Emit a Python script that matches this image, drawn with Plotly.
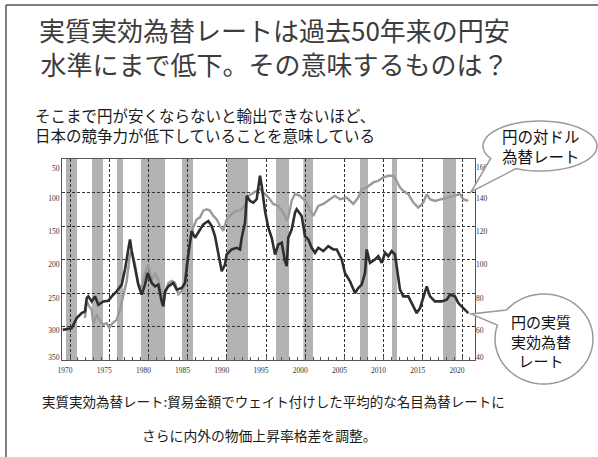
import math
import plotly.graph_objects as go

# ---------------- data ----------------
reer_years = [1969.71, 1970.85, 1971.49, 1972.13, 1972.55, 1972.77, 1972.97, 1973.41, 1973.83, 1974.25,
              1974.89, 1975.52, 1975.96, 1976.59, 1977.23, 1977.65, 1978.07, 1978.29, 1978.51, 1978.93,
              1979.35, 1979.78, 1980.20, 1980.55, 1981.06, 1981.48, 1981.90, 1982.33, 1982.54, 1982.76,
              1983.18, 1983.81, 1984.25, 1984.89, 1985.31, 1985.73, 1986.16, 1986.58, 1987.00, 1987.64,
              1988.28, 1988.71, 1989.13, 1989.55, 1989.99, 1990.41, 1990.62, 1991.26, 1991.90, 1992.32,
              1992.54, 1992.96, 1993.18, 1993.60, 1994.02, 1994.45, 1994.87, 1995.09, 1995.51, 1995.93,
              1996.37, 1996.79, 1997.21, 1997.64, 1998.06, 1998.28, 1998.48, 1998.92, 1999.34, 1999.55,
              2000.19, 2000.61, 2001.03, 2001.47, 2001.89, 2002.31, 2002.95, 2003.58, 2004.22, 2004.66,
              2005.29, 2005.71, 2006.35, 2006.99, 2007.41, 2007.84, 2008.27, 2008.48, 2008.90, 2009.54,
              2009.96, 2010.40, 2010.82, 2011.24, 2011.67, 2012.09, 2012.30, 2012.73, 2013.15, 2013.79,
              2014.43, 2014.86, 2015.28, 2015.70, 2016.14, 2016.56, 2017.19, 2018.05, 2018.69, 2019.11,
              2019.74, 2020.17, 2020.80, 2021.44]
reer_values = [58, 59, 65, 68, 69, 77, 78, 75, 78, 73,
               75, 75.4, 78, 81, 85, 94, 106, 112, 105, 95,
               85, 79, 85, 92, 86, 84, 85, 75, 72, 81,
               84, 86, 82, 83, 86, 103, 117, 113, 116, 121,
               123, 120, 114, 104, 93, 97, 103, 106, 107, 106,
               113, 122, 138, 135, 134, 136, 150, 144, 129, 119,
               113, 103, 109, 110, 99, 96, 113, 118, 128, 130,
               126, 114, 112, 107, 104, 107, 105, 108, 106, 106,
               100, 92, 87, 80, 83, 85, 92, 106, 98, 100,
               102, 98, 104, 102, 105, 103, 96, 82, 78, 78,
               72, 68, 71, 78, 84, 78, 75, 75, 76, 79,
               78, 74, 71, 68]

usd_years = [1972.55, 1972.77, 1973.10, 1973.41, 1973.61, 1974.04, 1974.46, 1974.89, 1975.32, 1975.65,
             1976.08, 1976.59, 1977.02, 1977.44, 1977.87, 1978.29, 1978.51, 1978.93, 1979.35, 1979.78,
             1980.20, 1980.62, 1981.06, 1981.48, 1981.90, 1982.33, 1982.54, 1982.76, 1983.18, 1983.61,
             1984.03, 1984.45, 1984.89, 1985.31, 1985.52, 1985.94, 1986.36, 1986.80, 1987.22, 1987.64,
             1988.07, 1988.49, 1988.92, 1989.35, 1989.77, 1990.19, 1990.63, 1991.26, 1991.90, 1992.32,
             1992.96, 1993.38, 1994.02, 1994.45, 1994.87, 1995.29, 1995.93, 1996.57, 1997.21, 1997.84,
             1998.28, 1998.48, 1998.92, 1999.34, 1999.97, 2000.61, 2001.25, 2001.67, 2002.31, 2002.95,
             2003.80, 2004.44, 2005.08, 2005.94, 2006.77, 2007.41, 2007.84, 2008.48, 2009.32, 2009.96,
             2010.60, 2011.24, 2011.88, 2012.30, 2012.73, 2013.15, 2013.79, 2014.43, 2015.06, 2015.70,
             2016.14, 2016.56, 2017.19, 2018.05, 2018.89, 2019.74, 2020.38, 2020.80, 2021.44]
usd_values = [287, 262, 270, 275, 297, 282, 292, 297, 295, 302,
              295, 290, 275, 255, 232, 192, 188, 207, 237, 242,
              220, 207, 232, 220, 230, 252, 267, 252, 235, 232,
              235, 252, 247, 237, 207, 172, 152, 140, 137, 127,
              125, 127, 135, 140, 150, 157, 140, 132, 127, 127,
              120, 105, 100, 97.5, 95, 100, 107, 117, 120, 130,
              142, 137, 112, 102, 105, 112, 125, 135, 120, 117,
              110, 105, 110, 107.5, 117, 107.5, 95, 92.5, 85, 82.5,
              77.5, 75, 75, 82.5, 92.5, 97.5, 102.5, 115, 122.5, 115,
              102.5, 110, 112.5, 110, 107.5, 105, 102.5, 110, 112.5]

recession_start = [1970.13, 1973.44, 1976.63, 1979.69, 1984.92, 1990.66, 1996.91, 2000.40, 2007.63, 2011.71, 2018.21]
recession_end = [1971.53, 1974.85, 1977.40, 1982.76, 1986.33, 1993.34, 1998.57, 2001.63, 2008.65, 2012.35, 2019.87]

x_tick_labels = ["1970", "1975", "1980", "1985", "1990", "1995", "2000", "2005", "2010", "2015", "2020"]
left_ticks = [50, 100, 150, 200, 250, 300, 350]
left_grid = [100, 150, 200, 250, 300]
right_ticks = [160, 140, 120, 100, 80, 60, 40]

title_lines = ["実質実効為替レートは過去50年来の円安", "水準にまで低下。その意味するものは？"]
subtitle_lines = ["そこまで円が安くならないと輸出できないほど、", "日本の競争力が低下していることを意味している"]
caption_lines = ["実質実効為替レート:貿易金額でウェイト付けした平均的な名目為替レートに",
                 "さらに内外の物価上昇率格差を調整。"]
bubble1_lines = ["円の対ドル", "為替レート"]
bubble2_lines = ["円の実質", "実効為替", "レート"]

# ---------------- layout geometry (style) ----------------
W_PX, H_PX = 598, 457
L, R, T, B = 62, 475, 159, 360
PW, PH = R - L, B - T
LEFT_RANGE = (350, 50)
RIGHT_RANGE = (40, 160)
# vertical pixel rows where the y tick labels sit in the picture
left_label_rows = [168, 198, 231, 264, 298, 330, 357]
right_label_rows = [167, 198, 231, 264, 298, 330, 357]


def P(px, py):
    return (px - L) / PW, (B - py) / PH


def left_val(py):
    return LEFT_RANGE[1] + (py - T) * (LEFT_RANGE[0] - LEFT_RANGE[1]) / PH


def right_val(py):
    return RIGHT_RANGE[1] - (py - T) * (RIGHT_RANGE[1] - RIGHT_RANGE[0]) / PH


CJK = "Noto Sans CJK JP"
grid_offset = 0.64  # grid lines sit slightly right of the year labels

fig = go.Figure()

fig.add_trace(go.Scatter(x=usd_years, y=usd_values, mode="lines", yaxis="y",
                         line=dict(color="#9a9a9a", width=2.4), hoverinfo="skip"))
fig.add_trace(go.Scatter(x=reer_years, y=reer_values, mode="lines", yaxis="y2",
                         line=dict(color="#2e2e2e", width=2.6), hoverinfo="skip"))

shapes = []
for s, e in zip(recession_start, recession_end):
    shapes.append(dict(type="rect", xref="x", yref="paper", x0=s, x1=e, y0=0, y1=1,
                       fillcolor="#b3b3b3", line=dict(width=0), layer="below"))

# outer slide border (top and left)
x0, y0 = P(6, 5)
x1, _ = P(598, 5)
_, y1 = P(6, 457)
shapes.append(dict(type="line", xref="paper", yref="paper", x0=x0, y0=y0, x1=x1, y1=y0,
                   line=dict(color="#555555", width=1.5)))
shapes.append(dict(type="line", xref="paper", yref="paper", x0=x0, y0=y0, x1=x0, y1=y1,
                   line=dict(color="#555555", width=1.5)))


def bubble_path(cx, cy, rx, ry, t_start, t_end, tip, n=80):
    pts = []
    for i in range(n + 1):
        t = math.radians(t_start + (t_end - t_start) * i / n)
        pts.append((cx + rx * math.cos(t), cy + ry * math.sin(t)))
    pts.append(tip)
    conv = [P(px, py) for px, py in pts]
    return "M " + " L ".join(f"{a:.5f},{b:.5f}" for a, b in conv) + " Z"


shapes.append(dict(type="path", xref="paper", yref="paper",
                   path=bubble_path(540, 146, 57, 25, 115, -210, (471, 192)),
                   fillcolor="white", line=dict(color="#999999", width=1.5), layer="above"))
shapes.append(dict(type="path", xref="paper", yref="paper",
                   path=bubble_path(544, 339, 49, 45, -140, 198, (471, 314)),
                   fillcolor="white", line=dict(color="#999999", width=1.5), layer="above"))

annotations = []


def add_text(text, px, py, size, color, anchor="center"):
    ax, ay = P(px, py)
    annotations.append(dict(text=text, x=ax, y=ay, xref="paper", yref="paper",
                            xanchor=anchor, yanchor="middle", align=anchor, showarrow=False,
                            font=dict(family=CJK, size=size, color=color)))


add_text("<br>".join(title_lines), 274.5, 46.5, 26, "#3c3c3c")
add_text("<br>".join(subtitle_lines), 33, 124.5, 15.5, "#1a1a1a", "left")
add_text(caption_lines[0], 40, 401, 13.5, "#1a1a1a", "left")
add_text(caption_lines[1], 140, 435, 13.8, "#1a1a1a", "left")
add_text("<br>".join(bubble1_lines), 541, 146, 15.5, "#111111")
add_text("<br>".join(bubble2_lines), 541, 341, 15, "#111111")

tick_font = dict(family="Liberation Serif", size=7.5, color="#333333")
grid_style = dict(gridcolor="#333333", gridwidth=1, griddash="3px,2px")

label_years = [int(t) for t in x_tick_labels]
fig.update_layout(
    width=W_PX, height=H_PX,
    margin=dict(l=L, r=W_PX - R, t=T, b=H_PX - B, pad=0),
    paper_bgcolor="white", plot_bgcolor="white",
    showlegend=False,
    shapes=shapes, annotations=annotations,
    xaxis=dict(range=[1970 + (L - 65) / 7.84, 1970 + (R - 65) / 7.84],
               tickvals=[y + grid_offset for y in label_years], ticktext=x_tick_labels,
               ticklabelshift=-5, ticklabelstandoff=3,
               showgrid=True, **grid_style,
               showline=True, linecolor="#555555", linewidth=1.2, mirror=True,
               ticks="inside", ticklen=4, tickcolor="#555555",
               minor=dict(ticks="inside", ticklen=3, dtick=1, tick0=1970 + grid_offset,
                          tickcolor="#555555", showgrid=False),
               tickfont=tick_font, zeroline=False),
    yaxis=dict(range=list(LEFT_RANGE),
               tickvals=[left_val(r) for r in left_label_rows],
               ticktext=[str(v) for v in left_ticks],
               showgrid=False,
               minor=dict(tickvals=left_grid, showgrid=True, ticks="", **grid_style),
               showline=True, linecolor="#555555", linewidth=1.2, mirror=True,
               ticks="", tickfont=tick_font, zeroline=False),
    yaxis2=dict(range=list(RIGHT_RANGE),
                tickvals=[right_val(r) for r in right_label_rows],
                ticktext=[str(v) for v in right_ticks],
                overlaying="y", side="right",
                showgrid=False, showline=False, ticks="", tickfont=tick_font, zeroline=False),
)

fig.write_html("out.html")
